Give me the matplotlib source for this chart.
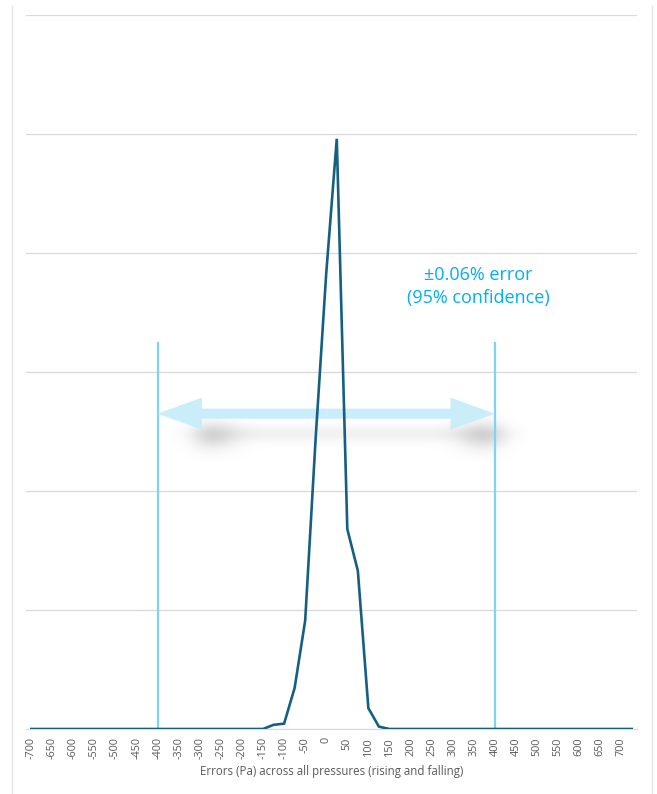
import numpy as np
import matplotlib.pyplot as plt
from matplotlib.lines import Line2D
from matplotlib.patches import FancyArrow

# Data: error bins (Pa) and relative frequency (one gridline = 1 unit)
bins = list(range(-700, 726, 25))
freq_nonzero = {-125: 0.035, -100: 0.045, -75: 0.345, -50: 0.91, -25: 2.45,
                0: 3.83, 25: 4.96, 50: 1.68, 75: 1.33, 100: 0.175, 125: 0.02}
freq = [freq_nonzero.get(b, 0.0) for b in bins]
tick_labels = [str(b) if b % 50 == 0 and b <= 700 else '' for b in bins]

conf_low, conf_high = -400, 400      # 95% confidence band
marker_top = 3.24                    # height of the vertical markers
arrow_y = 2.65

#Figure
fig = plt.figure(figsize=(6.57, 7.94), dpi=100)
ax = fig.add_axes([26/657, 1-729/794, (637-26)/657, (729-15)/794])

x = np.arange(len(bins))
ax.plot(x, freq, color='#156082', lw=1.9, solid_joinstyle='miter', zorder=5)

ax.set_xlim(-0.5, len(bins)-0.5)
ax.set_ylim(0, 6)
ax.set_yticks(range(0, 7))
ax.set_yticklabels([])
ax.tick_params(axis='y', length=0)
ax.grid(axis='y', color='#d9d9d9', lw=0.9)
ax.set_axisbelow(True)
for s in ['top', 'right', 'left']:
    ax.spines[s].set_visible(False)
ax.spines['bottom'].set_color('#d9d9d9')

ax.set_xticks(x)
ax.set_xticklabels(tick_labels, rotation=90, fontsize=7.8, color='#595959', family='Open Sans')
ax.tick_params(axis='x', length=0, pad=6)
ax.set_xlabel('Errors (Pa) across all pressures (rising and falling)', fontsize=8.3,
              color='#595959', family='Open Sans', labelpad=4)

# confidence markers
i_lo, i_hi = bins.index(conf_low), bins.index(conf_high)
ax.plot([i_lo, i_lo], [0, marker_top], color='#7fd3f7', lw=1.6, zorder=3)
ax.plot([i_hi, i_hi], [0, marker_top], color='#7fd3f7', lw=1.6, zorder=3)

# soft shadow under the arrow (blurred band, darker at the two ends)
gx = np.linspace(i_lo, i_hi + 3, 400)
gy = np.linspace(arrow_y - 0.4, arrow_y, 120)
GX, GY = np.meshgrid(gx, gy)
band = 0.10 * np.exp(-(GY - (arrow_y - 0.17))**2 / (2*0.05**2))
blobs = 0.26 * (np.exp(-(GX - (i_lo + 4.8))**2 / (2*1.8**2)) +
                np.exp(-(GX - (i_hi - 0.8))**2 / (2*1.8**2))) * \
        np.exp(-(GY - (arrow_y - 0.19))**2 / (2*0.085**2))
taper = 1/(1+np.exp(-(GX - (i_lo + 3.4))/0.8)) * 1/(1+np.exp((GX - (i_hi + 1.0))/0.8))
alpha = np.clip((band + blobs) * taper, 0, 1)
rgba = np.zeros(alpha.shape + (4,))
rgba[..., :3] = 0.45
rgba[..., 3] = alpha
ax.imshow(rgba, extent=[gx[0], gx[-1], gy[0], gy[-1]], origin='lower',
          aspect='auto', zorder=2, interpolation='bilinear')

# double headed arrow
mid = (i_lo + i_hi) / 2
for start, d in [(mid, i_lo - mid), (mid, i_hi - mid)]:
    ax.add_patch(FancyArrow(start, arrow_y, d, 0, width=0.085, head_width=0.27,
                            head_length=4.2, length_includes_head=True,
                            color='#caedfa', lw=0, zorder=3))

ax.text(42.4, 3.72, '±0.06% error\n(95% confidence)', ha='center', va='center',
        fontsize=13, color='#00b0f0', family='Open Sans', linespacing=1.4)

# chart frame edges
fig.add_artist(Line2D([12/657, 12/657], [0, 1-6/794], color='#e3e3e3', lw=1))
fig.add_artist(Line2D([652/657, 652/657], [0, 1-6/794], color='#e3e3e3', lw=1))

plt.savefig('out.png', dpi=100)
